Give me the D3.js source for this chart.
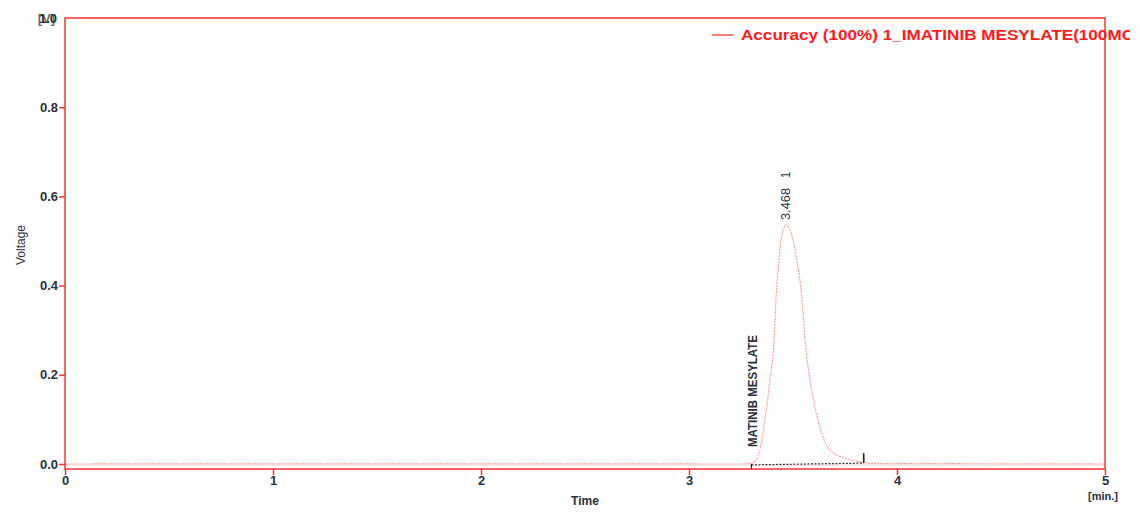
<!DOCTYPE html>
<html><head><meta charset="utf-8">
<script src="https://cdn.jsdelivr.net/npm/d3@7"></script>
<style>body{margin:0;background:#fff;} text{font-family:"Liberation Sans",Arial,sans-serif;}</style>
</head><body><svg id="c" width="1140" height="512"></svg>
<script>
const xTicks = [0, 1, 2, 3, 4, 5];
const yTicks = [0.0, 0.2, 0.4, 0.6, 0.8];
const yTickLabels = ["0.0", "0.2", "0.4", "0.6", "0.8"];
const times = [0, 1.7, 1.8, 2.2, 2.3, 3.25, 3.30, 3.322, 3.341, 3.365, 3.389, 3.409, 3.418, 3.433, 3.442, 3.468, 3.500, 3.519, 3.543, 3.558, 3.582, 3.620, 3.678, 3.75, 3.837, 3.9, 4.5, 5.0];
const voltage = [0, 0.0005, 0.0005, 0.0005, 0.0005, 0, 0.002, 0.009, 0.031, 0.099, 0.188, 0.278, 0.368, 0.457, 0.502, 0.536, 0.502, 0.457, 0.368, 0.278, 0.188, 0.099, 0.031, 0.013, 0.004, 0.001, 0.0005, 0];
const baselineT = [3.30, 3.84];
const baselineV = [-0.002, 0.002];
const peakTime = 3.468, peakLabel = "3.468", peakNo = "1";
const compoundName = "MATINIB MESYLATE";
const legendText = "Accuracy (100%) 1_IMATINIB MESYLATE(100MCG)";

const svg = d3.select("#c");
const L = 65, R = 1105, T = 18, B0 = 464, AX = 469;
const x = d3.scaleLinear().domain([0, 5]).range([L, R]);
const y = d3.scaleLinear().domain([0, 1]).range([B0, T]);
const red = "#ff3030", txt = "#2a2f3a";

// signal
const line = d3.line().curve(d3.curveMonotoneX).x((d,i)=>x(times[i])).y((d,i)=>y(voltage[i]));
svg.append("path").datum(voltage).attr("d", line).attr("fill","none")
  .attr("stroke","#ff9a9a").attr("stroke-width",1.2).attr("stroke-dasharray","2,1");
svg.append("line").attr("x1",x(0)).attr("x2",x(5)).attr("y1",y(0)+1).attr("y2",y(0)+1)
  .attr("stroke","#ffd0d0").attr("stroke-width",1);

// baseline
svg.append("line").attr("x1",x(baselineT[0])).attr("x2",x(baselineT[1]))
  .attr("y1",y(baselineV[0])).attr("y2",y(baselineV[1]))
  .attr("stroke","#333").attr("stroke-width",1.2).attr("stroke-dasharray","2,1.5");
svg.append("line").attr("x1",x(baselineT[0])).attr("x2",x(baselineT[0]))
  .attr("y1",y(baselineV[0])-1).attr("y2",AX).attr("stroke","#222").attr("stroke-width",1.3);
svg.append("line").attr("x1",x(baselineT[1])).attr("x2",x(baselineT[1]))
  .attr("y1",y(baselineV[1])).attr("y2",y(baselineV[1])-10).attr("stroke","#222").attr("stroke-width",1.6);

// frame
svg.append("rect").attr("x",L).attr("y",T).attr("width",R-L).attr("height",AX-T)
  .attr("fill","none").attr("stroke",red).attr("stroke-width",1.5);

// y axis
const ya = svg.append("g").attr("transform",`translate(${L},0)`)
  .call(d3.axisLeft(y).tickValues(yTicks).tickSize(6).tickFormat((d,i)=>yTickLabels[i]));
ya.select(".domain").remove();
ya.selectAll("line").attr("stroke",red).attr("stroke-width",1.5);
ya.selectAll("text").attr("fill",txt).attr("font-size",13).attr("font-weight","bold").attr("x",-7);
svg.append("text").attr("x",57).attr("y",T+5).attr("text-anchor","end").attr("fill",txt)
  .attr("font-size",13).attr("font-weight","bold").text("1.0");
svg.append("text").attr("x",55).attr("y",T+5).attr("text-anchor","end").attr("fill",txt)
  .attr("font-size",13).attr("font-weight","bold").attr("opacity",0.7).text("[V]");
svg.append("text").attr("transform","translate(25,245) rotate(-90)").attr("text-anchor","middle")
  .attr("fill",txt).attr("font-size",12).text("Voltage");

// x axis
const xa = svg.append("g").attr("transform",`translate(0,${AX})`)
  .call(d3.axisBottom(x).tickValues(xTicks).tickSize(6).tickFormat(d3.format("d")));
xa.select(".domain").remove();
xa.selectAll("line").attr("stroke",red).attr("stroke-width",1.5);
xa.selectAll("text").attr("fill",txt).attr("font-size",13).attr("font-weight","bold").attr("y",7);
svg.append("text").attr("x",585).attr("y",505).attr("text-anchor","middle").attr("fill",txt)
  .attr("font-size",12).attr("font-weight","bold").text("Time");
svg.append("text").attr("x",1103).attr("y",500).attr("text-anchor","middle").attr("fill",txt)
  .attr("font-size",11).attr("font-weight","bold").text("[min.]");

// peak labels
svg.append("text").attr("transform",`translate(${x(peakTime)+4},204) rotate(-90)`)
  .attr("text-anchor","middle").attr("fill",txt).attr("font-size",12)
  .attr("textLength",32).attr("lengthAdjust","spacingAndGlyphs").text(peakLabel);
svg.append("text").attr("transform",`translate(${x(peakTime)+4},175) rotate(-90)`)
  .attr("text-anchor","middle").attr("fill",txt).attr("font-size",12).text(peakNo);
svg.append("text").attr("transform",`translate(${x(baselineT[0])+6},391) rotate(-90)`)
  .attr("text-anchor","middle").attr("fill",txt).attr("font-size",13).attr("font-weight","bold")
  .attr("textLength",112).attr("lengthAdjust","spacingAndGlyphs").text(compoundName);

// legend
svg.append("defs").append("clipPath").attr("id","lc").append("rect")
  .attr("x",700).attr("y",20).attr("width",430).attr("height",30);
const lg = svg.append("g").attr("clip-path","url(#lc)");
lg.append("line").attr("x1",712).attr("x2",733).attr("y1",35).attr("y2",35).attr("stroke",red).attr("stroke-width",1.3);
lg.append("text").attr("x",741).attr("y",40).attr("fill","#ff1a1a").attr("font-size",14)
  .attr("font-weight","bold").attr("textLength",412).attr("lengthAdjust","spacingAndGlyphs").text(legendText);
</script></body></html>
